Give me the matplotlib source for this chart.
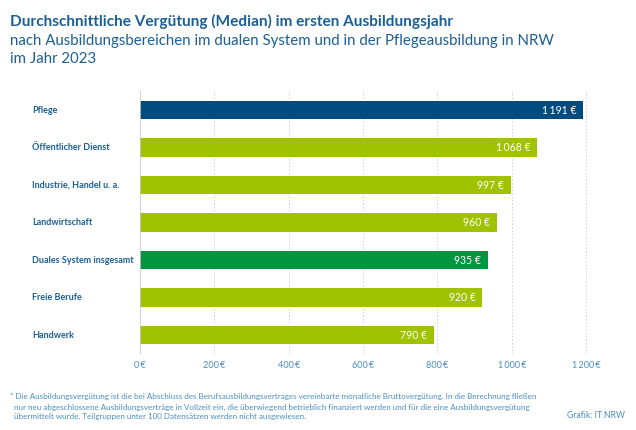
from matplotlib import pyplot as plt
from matplotlib.transforms import blended_transform_factory

plt.rcParams['font.family'] = ['Lato', 'DejaVu Sans']

# Data
categories = ["Pflege", "Öffentlicher Dienst", "Industrie, Handel u. a.", "Landwirtschaft",
              "Duales System insgesamt", "Freie Berufe", "Handwerk"]
values = [1191, 1068, 997, 960, 935, 920, 790]
value_labels = ["1\u2009191 €", "1\u2009068 €", "997 €", "960 €", "935 €", "920 €", "790 €"]
ticks = [0, 200, 400, 600, 800, 1000, 1200]
tick_labels = ["0\u2009€", "200\u2009€", "400\u2009€", "600\u2009€", "800\u2009€", "1\u2009000\u2009€", "1\u2009200\u2009€"]

navy = "#004b80"
green = "#a0c200"
dark_green = "#009640"
colors = [navy, green, green, green, dark_green, green, green]
text_blue = "#1b5f96"
tick_blue = "#4a8fc2"

fig = plt.figure(figsize=(6.36, 4.30), dpi=100)
ax = fig.add_axes([140 / 636, 1 - 353.75 / 430, 461 / 636, 262.5 / 430])

ypos = list(range(len(categories)))
ax.barh(ypos, values, height=0.5, color=colors, zorder=3)
ax.set_ylim(len(categories) - 0.5, -0.5)
ax.set_xlim(0, 1240)

# grid
for t in ticks[1:]:
    ax.axvline(t, color="#d0d0d0", linestyle=(0, (1.5, 2)), linewidth=0.7, zorder=1)
ax.axvline(0, color="#c8c8c8", linewidth=1.2, zorder=4)

for s in ax.spines.values():
    s.set_visible(False)
ax.set_xticks(ticks)
ax.set_xticklabels(tick_labels)
ax.tick_params(axis="x", length=0, pad=5, labelsize=6.6, labelcolor=tick_blue)
ax.set_yticks([])

# value labels
for y, v, lab in zip(ypos, values, value_labels):
    ax.text(v - 17, y, lab, ha="right", va="center", color="white", fontsize=7.6, zorder=5)

# category labels
trans = blended_transform_factory(fig.transFigure, ax.transData)
for y, c in zip(ypos, categories):
    ax.text(32 / 636, y, c, ha="left", va="center", color=text_blue, fontsize=6.5,
            fontweight="bold", transform=trans)

# titles
fig.text(10 / 636, 1 - 21 / 430, "Durchschnittliche Vergütung (Median) im ersten Ausbildungsjahr",
         ha="left", va="center", fontsize=11.1, fontweight="bold", color=text_blue)
fig.text(10 / 636, 1 - 41 / 430,
         "nach Ausbildungsbereichen im dualen System und in der Pflegeausbildung in NRW",
         ha="left", va="center", fontsize=10.85, color=text_blue)
fig.text(10 / 636, 1 - 59 / 430, "im Jahr 2023", ha="left", va="center", fontsize=10.85, color=text_blue)

# footnote
foot = ["* Die Ausbildungsvergütung ist die bei Abschluss des Berufsausbildungsvertrages vereinbarte monatliche Bruttovergütung. In die Berechnung fließen",
        "nur neu abgeschlossene Ausbildungsverträge in Vollzeit ein, die überwiegend betrieblich finanziert werden und für die eine Ausbildungsvergütung",
        "übermittelt wurde. Teilgruppen unter 100 Datensätzen werden nicht ausgewiesen."]
for i, line in enumerate(foot):
    x = 10 if i == 0 else 14
    fig.text(x / 636, 1 - (397 + i * 10) / 430, line, ha="left", va="center",
             fontsize=5.75, color=tick_blue)
fig.text(625 / 636, 1 - 416 / 430, "Grafik: IT.NRW", ha="right", va="center",
         fontsize=6.2, color=tick_blue)

fig.savefig("out.png", dpi=100)
